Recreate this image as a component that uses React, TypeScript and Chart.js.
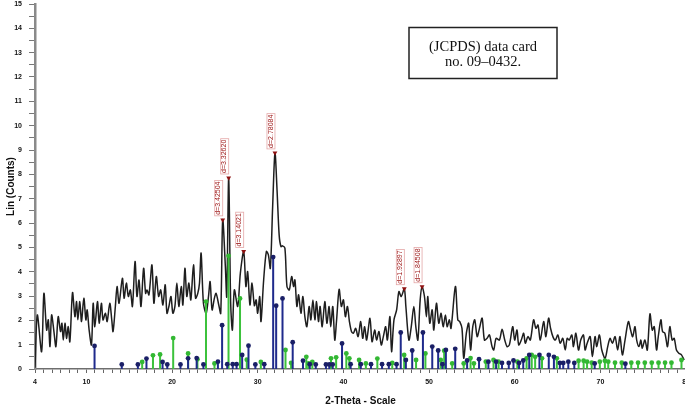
import React, { useEffect, useRef } from 'react';
import { Chart, registerables } from 'chart.js';

Chart.register(...registerables);

// Measured XRD scan, [2-theta, counts] (split in three ranges)
const scanLow: [number, number][] = [
  [4.0, 0.05], [4.27, 2.22], [4.77, 0.71], [5.04, 3.11], [5.36, 1.6], [5.55, 2.02], [5.75, 0.92], [5.94, 2.22],
  [6.21, 1.54], [6.44, 0.92], [6.71, 2.15], [6.98, 1.54], [7.14, 1.88], [7.3, 1.19], [7.5, 1.88], [7.68, 1.26],
  [7.88, 1.74], [8.07, 1.12], [8.38, 3.14], [8.66, 2.15], [8.85, 2.77], [9.0, 2.02], [9.23, 2.77], [9.43, 1.95],
  [9.7, 2.91], [9.94, 2.02], [10.09, 2.43], [10.32, 1.6], [10.59, 0.99], [10.79, 2.7], [10.98, 1.74], [11.29, 2.77],
  [11.49, 1.88], [11.75, 2.7], [11.94, 2.02], [12.22, 2.29], [12.42, 1.95], [12.73, 2.7], [12.96, 2.02], [13.11, 1.54],
  [13.38, 2.57], [13.58, 3.39], [13.81, 2.7], [14.2, 3.73], [14.4, 2.91], [14.66, 3.53], [14.9, 2.98], [15.13, 3.25],
  [15.37, 2.57], [15.68, 4.42], [15.9, 2.98], [16.14, 3.66], [16.37, 2.57], [16.68, 4.14], [16.91, 3.11], [17.07, 3.25],
  [17.3, 3.05], [17.65, 4.28], [17.88, 2.7], [18.16, 3.8], [18.43, 2.98], [18.67, 3.25], [18.93, 2.63], [19.2, 3.46],
  [19.4, 2.29], [19.63, 2.57], [19.87, 2.98], [20.09, 2.29], [20.33, 2.57], [20.56, 3.53], [20.79, 2.57], [21.07, 3.39],
  [21.26, 2.63], [21.5, 4.14], [21.72, 2.98], [21.96, 3.53], [22.19, 2.84], [22.5, 4.28], [22.74, 2.91], [23.0, 3.11],
  [23.2, 3.53], [23.39, 4.76], [23.66, 2.7], [23.98, 2.29], [24.25, 2.98], [24.44, 3.59], [24.67, 2.43], [24.94, 2.91],
  [25.14, 3.11], [25.45, 2.63], [25.68, 2.29], [25.91, 6.13], [26.22, 4.21], [26.38, 2.98], [26.61, 7.85], [26.84, 2.7],
  [27.04, 1.6], [27.27, 3.25], [27.66, 2.57], [27.97, 3.94], [28.36, 4.83], [28.62, 3.39], [28.82, 4.0], [29.09, 2.63],
  [29.33, 3.53],
];

const scanMid: [number, number][] = [
  [29.61, 2.6], [29.81, 2.84], [29.99, 2.29], [30.23, 2.98], [30.38, 1.95], [30.69, 3.66], [31.01, 4.83], [31.24, 4.69],
  [31.47, 4.14], [31.74, 6.68], [32.01, 8.88], [32.25, 7.37], [32.5, 5.5], [32.71, 5.03], [32.9, 5.06], [33.17, 4.97],
  [33.41, 3.39], [33.68, 3.25], [33.96, 3.8], [34.18, 3.39], [34.34, 3.66], [34.57, 2.57], [34.77, 3.05], [35.04, 2.29],
  [35.27, 2.98], [35.5, 2.15], [35.73, 1.74], [36.0, 2.57], [36.2, 2.02], [36.44, 2.84], [36.67, 2.02], [36.86, 2.77],
  [37.09, 1.95], [37.28, 2.57], [37.52, 1.74], [37.83, 2.77], [38.07, 1.88], [38.33, 2.57], [38.52, 1.74], [38.76, 2.57],
  [38.99, 1.19], [39.19, 1.95], [39.5, 3.27], [39.76, 2.57], [40.0, 2.84], [40.23, 2.15], [40.47, 2.57], [40.7, 1.95],
  [40.94, 1.54], [41.16, 1.47], [41.43, 1.67], [41.71, 1.33], [42.02, 1.95], [42.25, 1.26], [42.48, 1.74], [42.71, 1.19],
  [43.1, 2.09], [43.34, 1.12], [43.65, 1.6], [43.87, 1.19], [44.15, 1.54], [44.42, 0.99], [44.66, 1.33], [44.93, 1.74],
  [45.13, 1.19], [45.43, 2.15], [45.62, 0.71], [45.9, 2.02], [46.21, 2.43], [46.48, 3.18], [46.75, 2.98], [47.11, 3.3],
  [47.29, 2.57], [47.64, 1.19], [47.92, 1.74], [48.22, 2.57], [48.45, 1.74], [48.69, 1.19], [48.96, 2.84], [49.18, 3.38],
  [49.46, 2.98], [49.69, 2.15], [49.85, 2.98], [50.08, 1.88], [50.36, 2.43], [50.55, 1.6], [50.86, 2.7], [51.13, 1.88],
  [51.4, 2.29], [51.64, 1.74], [51.91, 2.22], [52.11, 1.74], [52.37, 2.02], [52.56, 1.67], [53.07, 3.39], [53.35, 2.02],
  [53.58, 1.95], [53.84, 1.67], [54.04, 0.44], [54.35, 1.47],
];

const scanHigh: [number, number][] = [
  [54.62, 1.88], [54.84, 0.78], [55.1, 1.74], [55.33, 2.02], [55.61, 1.33], [55.88, 1.67], [56.19, 2.09], [56.46, 1.19],
  [56.77, 1.26], [57.04, 1.4], [57.35, 0.92], [57.55, 0.78], [57.82, 1.26], [58.2, 1.19], [58.52, 1.63], [58.83, 1.19],
  [59.1, 0.92], [59.37, 0.99], [59.76, 1.74], [59.99, 1.19], [60.26, 1.6], [60.46, 0.99], [60.76, 1.19], [61.04, 1.47],
  [61.23, 1.06], [61.54, 1.33], [61.82, 1.19], [62.2, 2.02], [62.47, 1.67], [62.71, 1.81], [62.98, 1.19], [63.37, 1.95],
  [63.63, 1.33], [63.95, 2.09], [64.18, 1.67], [64.45, 1.33], [64.73, 1.19], [65.03, 1.4], [65.3, 1.06], [65.61, 1.26],
  [65.89, 0.78], [66.12, 1.26], [66.35, 1.19], [66.66, 1.4], [66.85, 0.92], [67.13, 1.47], [67.44, 0.78], [67.7, 1.19],
  [68.02, 1.4], [68.21, 0.78], [68.45, 1.06], [68.8, 1.33], [69.06, 0.51], [69.37, 1.33], [69.57, 0.92], [69.88, 1.4],
  [70.16, 0.78], [70.54, 0.44], [70.85, 0.92], [71.12, 1.26], [71.4, 1.06], [71.71, 1.33], [72.01, 0.78], [72.28, 1.33],
  [72.56, 0.58], [72.87, 1.19], [73.26, 1.95], [73.52, 1.6], [73.76, 1.33], [74.03, 1.74], [74.23, 1.19], [74.5, 0.92],
  [74.72, 1.19], [74.88, 0.85], [75.19, 1.19], [75.47, 0.78], [75.78, 2.26], [76.05, 1.6], [76.28, 1.74], [76.55, 0.78],
  [76.75, 1.33], [77.06, 2.02], [77.25, 1.54], [77.52, 1.47], [77.83, 0.92], [78.1, 1.74], [78.37, 1.19], [78.61, 1.26],
  [78.87, 0.78], [79.15, 0.65], [79.46, 0.58], [79.77, 0.37],
];

// Reference pattern sticks, [2-theta, intensity]
const bluePhase: [number, number][] = [
  [10.95, 0.95], [14.13, 0.19], [16.01, 0.19], [17.01, 0.43], [18.89, 0.29], [19.44, 0.19], [20.98, 0.19], [21.87, 0.44],
  [22.87, 0.45], [23.66, 0.19], [25.35, 0.3], [25.84, 1.8], [26.44, 0.2], [27.08, 0.2], [27.53, 0.2], [28.18, 0.58],
  [28.92, 0.96], [29.72, 0.19], [30.76, 0.2], [31.8, 4.6], [32.15, 2.6], [32.89, 2.9], [34.08, 1.1], [35.28, 0.34],
  [36.07, 0.2], [36.77, 0.19], [37.96, 0.19], [38.35, 0.19], [38.75, 0.19], [39.84, 1.05], [40.84, 0.2], [42.03, 0.2],
  [43.22, 0.2], [44.51, 0.2], [45.3, 0.2], [46.2, 0.2], [46.69, 1.5], [47.29, 0.37], [48.03, 0.76], [49.28, 1.5],
  [50.37, 0.92], [51.06, 0.76], [51.56, 0.2], [51.96, 0.78], [53.05, 0.83], [54.44, 0.35], [55.83, 0.4], [56.92, 0.3],
  [57.82, 0.3], [58.51, 0.25], [59.3, 0.25], [59.85, 0.35], [60.5, 0.25], [60.99, 0.35], [61.69, 0.58], [62.88, 0.58],
  [63.97, 0.58], [64.57, 0.5], [65.26, 0.25], [65.66, 0.25], [66.25, 0.3], [66.95, 0.25], [69.33, 0.23], [72.91, 0.22],
];

const greenPhase: [number, number][] = [
  [16.51, 0.29], [17.77, 0.56], [18.6, 0.6], [20.13, 1.27], [21.87, 0.64], [22.96, 0.4], [23.96, 2.77], [24.95, 0.23],
  [26.59, 4.65], [27.93, 2.9], [28.72, 0.38], [30.36, 0.29], [33.24, 0.78], [33.89, 0.25], [35.67, 0.5], [35.92, 0.23],
  [36.37, 0.29], [38.55, 0.44], [39.15, 0.48], [40.34, 0.64], [40.69, 0.44], [41.83, 0.37], [42.62, 0.23], [43.96, 0.43],
  [45.7, 0.25], [47.09, 0.58], [48.48, 0.37], [49.57, 0.64], [51.36, 0.37], [51.76, 0.75], [52.7, 0.23], [54.04, 0.23],
  [54.84, 0.45], [55.23, 0.23], [56.62, 0.3], [57.52, 0.37], [58.11, 0.3], [60.3, 0.3], [61.38, 0.44], [61.98, 0.58],
  [62.38, 0.5], [63.18, 0.44], [64.91, 0.44], [67.45, 0.34], [68.04, 0.34], [68.44, 0.3], [68.98, 0.26], [69.93, 0.3],
  [70.52, 0.34], [70.91, 0.3], [71.7, 0.26], [72.49, 0.26], [73.6, 0.26], [74.39, 0.26], [75.18, 0.26], [75.99, 0.26],
  [76.78, 0.26], [77.54, 0.26], [78.29, 0.26], [79.46, 0.37],
];

// Labelled peaks
const peakTheta = [25.91, 26.61, 28.36, 32.01, 47.11, 49.18];
const peakCounts = [6.13, 7.85, 4.83, 8.88, 3.3, 3.38];
const peakLabels = ['d=3.42504', 'd=3.32620', 'd=3.14021', 'd=2.78084', 'd=1.92897', 'd=1.84508'];

const xTickLabels = [4, 10, 20, 30, 40, 50, 60, 70, 80];
const yTickLabels = [0, 1, 2, 3, 4, 5, 6, 7, 8, 9, 10, 11, 12, 13, 14, 15];
const cardLines = ['(JCPDS) data card', 'no. 09\u20130432.'];
const xTitle = '2-Theta - Scale';
const yTitle = 'Lin (Counts)';

function toPoints(list: [number, number][]) {
  return list.map(([x, y]) => ({ x, y }));
}

function toSticks(list: [number, number][]) {
  const out: { x: number; y: number | null }[] = [];
  for (const [x, y] of list) {
    out.push({ x, y: 0 }, { x, y }, { x, y: null });
  }
  return out;
}

const tickFont = { family: 'Arial, "Liberation Sans", sans-serif', size: 7, weight: 'bold' as const };
const titleFont = { family: 'Arial, "Liberation Sans", sans-serif', size: 10, weight: 'bold' as const };

const peakLabelPlugin = {
  id: 'peakLabels',
  afterDatasetsDraw(chart: any) {
    const { ctx, scales } = chart;
    const xs = scales.x;
    const ys = scales.y;
    ctx.save();
    ctx.font = '7px Arial, "Liberation Sans", sans-serif';
    peakTheta.forEach((t, i) => {
      const px = xs.getPixelForValue(t);
      const py = ys.getPixelForValue(peakCounts[i]);
      ctx.save();
      ctx.translate(px, py - 5);
      ctx.rotate(-Math.PI / 2);
      const w = ctx.measureText(peakLabels[i]).width;
      ctx.strokeStyle = 'rgba(205,95,95,0.55)';
      ctx.lineWidth = 0.8;
      ctx.strokeRect(-1, -8, w + 2, 8);
      ctx.fillStyle = '#9c1414';
      ctx.textAlign = 'left';
      ctx.textBaseline = 'bottom';
      ctx.fillText(peakLabels[i], 0, -0.8);
      ctx.restore();
    });
    ctx.restore();
  },
};

const cardPlugin = {
  id: 'cardBox',
  afterDraw(chart: any) {
    const { ctx } = chart;
    ctx.save();
    ctx.strokeStyle = '#222';
    ctx.lineWidth = 1.5;
    ctx.fillStyle = '#fff';
    ctx.fillRect(409, 27.5, 148, 51);
    ctx.strokeRect(409, 27.5, 148, 51);
    ctx.fillStyle = '#111';
    ctx.font = '14.5px "Liberation Serif", "Times New Roman", serif';
    ctx.textAlign = 'center';
    ctx.textBaseline = 'middle';
    ctx.fillText(cardLines[0], 483, 47.5);
    ctx.fillText(cardLines[1], 483, 62.5);
    ctx.restore();
  },
};

export default function App() {
  const canvasRef = useRef<HTMLCanvasElement | null>(null);

  useEffect(() => {
    document.body.style.margin = '0';
    const canvas = canvasRef.current;
    if (!canvas) return;
    const scan = [...scanLow, ...scanMid, ...scanHigh];

    const chart = new Chart(canvas, {
      type: 'scatter',
      data: {
        datasets: [
          {
            label: 'scan',
            data: toPoints(scan),
            showLine: true,
            borderColor: '#1e1e1e',
            borderWidth: 1.5,
            tension: 0.3,
            pointRadius: 0,
            order: 3,
          },
          {
            label: 'green',
            data: toSticks(greenPhase) as any,
            showLine: true,
            spanGaps: false,
            borderColor: '#3cc23c',
            borderWidth: 2,
            pointRadius: (c: any) => (c.raw && c.raw.y ? 2.4 : 0),
            pointBackgroundColor: '#33b833',
            pointBorderWidth: 0,
            order: 2,
          },
          {
            label: 'blue',
            data: toSticks(bluePhase) as any,
            showLine: true,
            spanGaps: false,
            borderColor: '#1f2a8c',
            borderWidth: 2,
            pointRadius: (c: any) => (c.raw && c.raw.y ? 2.4 : 0),
            pointBackgroundColor: '#1a1f66',
            pointBorderWidth: 0,
            order: 1,
          },
          {
            label: 'peaks',
            data: peakTheta.map((x, i) => ({ x, y: peakCounts[i] })),
            showLine: false,
            pointStyle: 'triangle',
            rotation: 180,
            pointRadius: 2.8,
            pointBackgroundColor: '#8e1111',
            pointBorderColor: '#8e1111',
            pointBorderWidth: 0,
            order: 0,
          },
        ],
      },
      options: {
        animation: false,
        responsive: false,
        maintainAspectRatio: false,
        layout: { padding: { top: 4, right: 7, left: 0, bottom: 0 } },
        plugins: { legend: { display: false }, tooltip: { enabled: false } },
        scales: {
          x: {
            type: 'linear',
            min: 4,
            max: 80,
            offset: false,
            afterBuildTicks: (s: any) => {
              const t = [];
              for (let v = 4; v <= 80; v++) t.push({ value: v });
              s.ticks = t;
            },
            afterFit: (s: any) => {
              s.height = 38;
              s.paddingLeft = 0;
            },
            ticks: {
              autoSkip: false,
              maxRotation: 0,
              minRotation: 0,
              padding: 5,
              color: '#111',
              font: tickFont,
              callback: (v: any) => (xTickLabels.includes(Number(v)) ? String(v) : ''),
            },
            grid: { display: true, drawOnChartArea: false, drawTicks: true, tickLength: 4, tickColor: '#666', tickWidth: 1 },
            border: { display: true, color: '#6e6e6e', width: 1.5 },
            title: { display: true, text: xTitle, color: '#111', font: titleFont, padding: { top: 0, bottom: 0 } },
          },
          y: {
            type: 'linear',
            min: 0,
            max: 15,
            afterBuildTicks: (s: any) => {
              const t = [];
              for (let v = 0; v <= 30; v++) t.push({ value: v / 2 });
              s.ticks = t;
            },
            afterFit: (s: any) => {
              s.width = 35;
              s.paddingTop = 0;
              s.paddingBottom = 0;
            },
            ticks: {
              autoSkip: false,
              padding: 7,
              color: '#111',
              font: tickFont,
              callback: (v: any) => (yTickLabels.includes(Number(v)) ? String(v) : ''),
            },
            grid: { display: true, drawOnChartArea: false, drawTicks: true, tickLength: 6, tickColor: '#777', tickWidth: 1 },
            border: { display: true, color: '#8a8a8a', width: 2.5 },
            title: { display: true, text: yTitle, color: '#111', font: titleFont, padding: { top: 5, bottom: 0 } },
          },
        },
      },
      plugins: [peakLabelPlugin, cardPlugin],
    } as any);

    return () => chart.destroy();
  }, []);

  return (
    <div style={{ width: 685, height: 407, overflow: 'hidden', background: '#fff' }}>
      <canvas ref={canvasRef} width={695} height={407} style={{ display: 'block' }} />
    </div>
  );
}
